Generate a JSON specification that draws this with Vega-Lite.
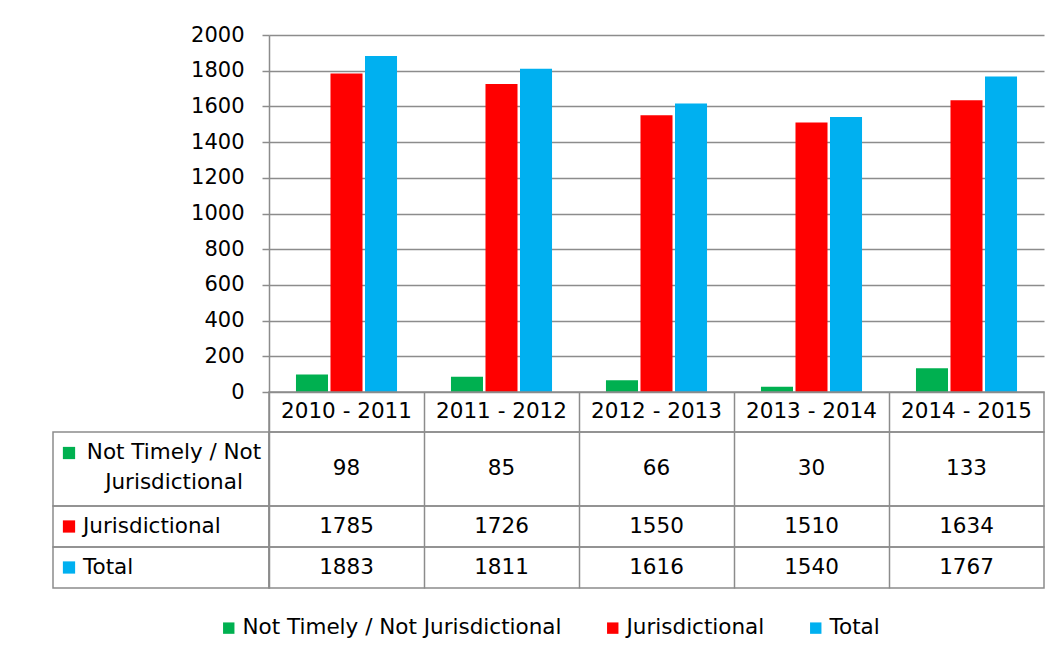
{
  "$schema": "https://vega.github.io/schema/vega-lite/v6.json",
  "padding": {"left": 52, "top": 24, "right": 18, "bottom": 0},
  "background": "white",
  "datasets": {
    "counts": [
      {"period": "2010 - 2011", "series": "Not Timely / Not Jurisdictional", "value": 98},
      {"period": "2010 - 2011", "series": "Jurisdictional", "value": 1785},
      {"period": "2010 - 2011", "series": "Total", "value": 1883},
      {"period": "2011 - 2012", "series": "Not Timely / Not Jurisdictional", "value": 85},
      {"period": "2011 - 2012", "series": "Jurisdictional", "value": 1726},
      {"period": "2011 - 2012", "series": "Total", "value": 1811},
      {"period": "2012 - 2013", "series": "Not Timely / Not Jurisdictional", "value": 66},
      {"period": "2012 - 2013", "series": "Jurisdictional", "value": 1550},
      {"period": "2012 - 2013", "series": "Total", "value": 1616},
      {"period": "2013 - 2014", "series": "Not Timely / Not Jurisdictional", "value": 30},
      {"period": "2013 - 2014", "series": "Jurisdictional", "value": 1510},
      {"period": "2013 - 2014", "series": "Total", "value": 1540},
      {"period": "2014 - 2015", "series": "Not Timely / Not Jurisdictional", "value": 133},
      {"period": "2014 - 2015", "series": "Jurisdictional", "value": 1634},
      {"period": "2014 - 2015", "series": "Total", "value": 1767}
    ],
    "rows": [
      {"series": "Not Timely / Not Jurisdictional", "label": "Not Timely / Not\nJurisdictional"},
      {"series": "Jurisdictional", "label": "Jurisdictional"},
      {"series": "Total", "label": "Total"}
    ]
  },
  "columns": 2,
  "spacing": 0,
  "bounds": "flush",
  "align": "each",
  "concat": [
    {"width": 216, "height": 357, "data": {"values": [{}]}, "mark": {"type": "text", "text": ""}, "view": {"stroke": null}},
    {
      "width": 775, "height": 357,
      "data": {"name": "counts"},
      "view": {"stroke": null},
      "mark": {"type": "bar"},
      "encoding": {
        "x": {"field": "period", "type": "nominal", "sort": null, "scale": {"paddingInner": 0.348, "paddingOuter": 0.174}, "axis": null},
        "xOffset": {"field": "series", "type": "nominal", "scale": {"domain": ["Not Timely / Not Jurisdictional", "Jurisdictional", "Total"], "paddingInner": 0.072, "paddingOuter": 0}},
        "y": {"field": "value", "type": "quantitative", "scale": {"domain": [0, 2000]},
              "axis": {"values": [0, 200, 400, 600, 800, 1000, 1200, 1400, 1600, 1800, 2000], "format": "d", "grid": true, "gridColor": "#8c8c8c", "gridWidth": 1.5, "domainColor": "#8c8c8c", "domainWidth": 1.5, "tickColor": "#8c8c8c", "tickWidth": 1.5, "tickSize": 7, "labelFontSize": 21, "labelPadding": 18, "labelColor": "black", "labelFont": "DejaVu Sans", "title": null}},
        "color": {"field": "series", "type": "nominal", "title": null, "scale": {"domain": ["Not Timely / Not Jurisdictional", "Jurisdictional", "Total"], "range": ["#00B050", "#FF0000", "#00B0F0"]}}
      }
    },
    {"width": 216, "height": 40, "data": {"values": [{}]}, "mark": {"type": "text", "text": ""}, "view": {"stroke": null}},
    {
      "width": 775, "height": 40,
      "data": {"name": "counts"},
      "transform": [{"filter": {"field": "series", "equal": "Total"}}],
      "mark": {"type": "text", "fontSize": 21.5, "font": "DejaVu Sans", "color": "black"},
      "encoding": {
        "x": {"field": "period", "type": "nominal", "sort": null, "scale": {"type": "band", "paddingInner": 0, "paddingOuter": 0}, "axis": {"labels": false, "ticks": false, "domain": false, "title": null, "grid": true, "bandPosition": 0, "gridColor": "#8c8c8c", "gridWidth": 1.5}},
        "text": {"field": "period"}
      }
    },
    {
      "width": 216, "height": 74,
      "data": {"name": "rows"},
      "transform": [{"filter": {"field": "series", "equal": "Not Timely / Not Jurisdictional"}}],
      "layer": [
        {"mark": {"type": "point", "shape": "square", "filled": true, "size": 150, "opacity": 1},
         "encoding": {
           "x": {"datum": "swatch", "scale": {"type": "point", "domain": ["swatch", "label"], "range": [16, 121], "padding": 0}, "axis": null},
           "y": {"datum": "first", "scale": {"type": "point", "domain": ["first", "second"], "range": [21, 51], "padding": 0}, "axis": null},
           "color": {"field": "series", "type": "nominal", "title": null, "scale": {"domain": ["Not Timely / Not Jurisdictional", "Jurisdictional", "Total"], "range": ["#00B050", "#FF0000", "#00B0F0"]}}
         }},
        {"mark": {"type": "text", "align": "center", "baseline": "middle", "lineBreak": "\n", "lineHeight": 30, "fontSize": 21.5, "font": "DejaVu Sans", "color": "black"},
         "encoding": {"x": {"datum": "label"}, "y": {"datum": "first"}, "text": {"field": "label"}}}
      ]
    },
    {
      "width": 775, "height": 74,
      "data": {"name": "counts"},
      "transform": [{"filter": {"field": "series", "equal": "Not Timely / Not Jurisdictional"}}],
      "mark": {"type": "text", "fontSize": 21.5, "font": "DejaVu Sans", "color": "black"},
      "encoding": {
        "x": {"field": "period", "type": "nominal", "sort": null, "scale": {"type": "band", "paddingInner": 0, "paddingOuter": 0}, "axis": {"labels": false, "ticks": false, "domain": false, "title": null, "grid": true, "bandPosition": 0, "gridColor": "#8c8c8c", "gridWidth": 1.5}},
        "text": {"field": "value"}
      }
    },
    {
      "width": 216, "height": 41,
      "data": {"name": "rows"},
      "transform": [{"filter": {"field": "series", "equal": "Jurisdictional"}}],
      "layer": [
        {"mark": {"type": "point", "shape": "square", "filled": true, "size": 150, "opacity": 1},
         "encoding": {
           "x": {"datum": "swatch", "scale": {"type": "point", "domain": ["swatch", "label"], "range": [16, 30], "padding": 0}, "axis": null},
           "color": {"field": "series", "type": "nominal", "title": null, "scale": {"domain": ["Not Timely / Not Jurisdictional", "Jurisdictional", "Total"], "range": ["#00B050", "#FF0000", "#00B0F0"]}}
         }},
        {"mark": {"type": "text", "align": "left", "baseline": "middle", "fontSize": 21.5, "font": "DejaVu Sans", "color": "black"},
         "encoding": {"x": {"datum": "label"}, "text": {"field": "label"}}}
      ]
    },
    {
      "width": 775, "height": 41,
      "data": {"name": "counts"},
      "transform": [{"filter": {"field": "series", "equal": "Jurisdictional"}}],
      "mark": {"type": "text", "fontSize": 21.5, "font": "DejaVu Sans", "color": "black"},
      "encoding": {
        "x": {"field": "period", "type": "nominal", "sort": null, "scale": {"type": "band", "paddingInner": 0, "paddingOuter": 0}, "axis": {"labels": false, "ticks": false, "domain": false, "title": null, "grid": true, "bandPosition": 0, "gridColor": "#8c8c8c", "gridWidth": 1.5}},
        "text": {"field": "value"}
      }
    },
    {
      "width": 216, "height": 41,
      "data": {"name": "rows"},
      "transform": [{"filter": {"field": "series", "equal": "Total"}}],
      "layer": [
        {"mark": {"type": "point", "shape": "square", "filled": true, "size": 150, "opacity": 1},
         "encoding": {
           "x": {"datum": "swatch", "scale": {"type": "point", "domain": ["swatch", "label"], "range": [16, 30], "padding": 0}, "axis": null},
           "color": {"field": "series", "type": "nominal", "title": null, "scale": {"domain": ["Not Timely / Not Jurisdictional", "Jurisdictional", "Total"], "range": ["#00B050", "#FF0000", "#00B0F0"]}}
         }},
        {"mark": {"type": "text", "align": "left", "baseline": "middle", "fontSize": 21.5, "font": "DejaVu Sans", "color": "black"},
         "encoding": {"x": {"datum": "label"}, "text": {"field": "label"}}}
      ]
    },
    {
      "width": 775, "height": 41,
      "data": {"name": "counts"},
      "transform": [{"filter": {"field": "series", "equal": "Total"}}],
      "mark": {"type": "text", "fontSize": 21.5, "font": "DejaVu Sans", "color": "black"},
      "encoding": {
        "x": {"field": "period", "type": "nominal", "sort": null, "scale": {"type": "band", "paddingInner": 0, "paddingOuter": 0}, "axis": {"labels": false, "ticks": false, "domain": false, "title": null, "grid": true, "bandPosition": 0, "gridColor": "#8c8c8c", "gridWidth": 1.5}},
        "text": {"field": "value"}
      }
    }
  ],
  "config": {
    "font": "DejaVu Sans",
    "view": {"stroke": "#8c8c8c", "strokeWidth": 1.5},
    "legend": {
      "orient": "bottom",
      "direction": "horizontal",
      "symbolType": "square",
      "symbolSize": 130,
      "symbolStrokeWidth": 0,
      "labelFontSize": 21.5,
      "labelFont": "DejaVu Sans",
      "labelColor": "black",
      "columnPadding": 40,
      "labelOffset": 3,
      "offset": 28,
      "labelLimit": 500,
      "layout": {"bottom": {"anchor": "middle"}}
    }
  }
}
